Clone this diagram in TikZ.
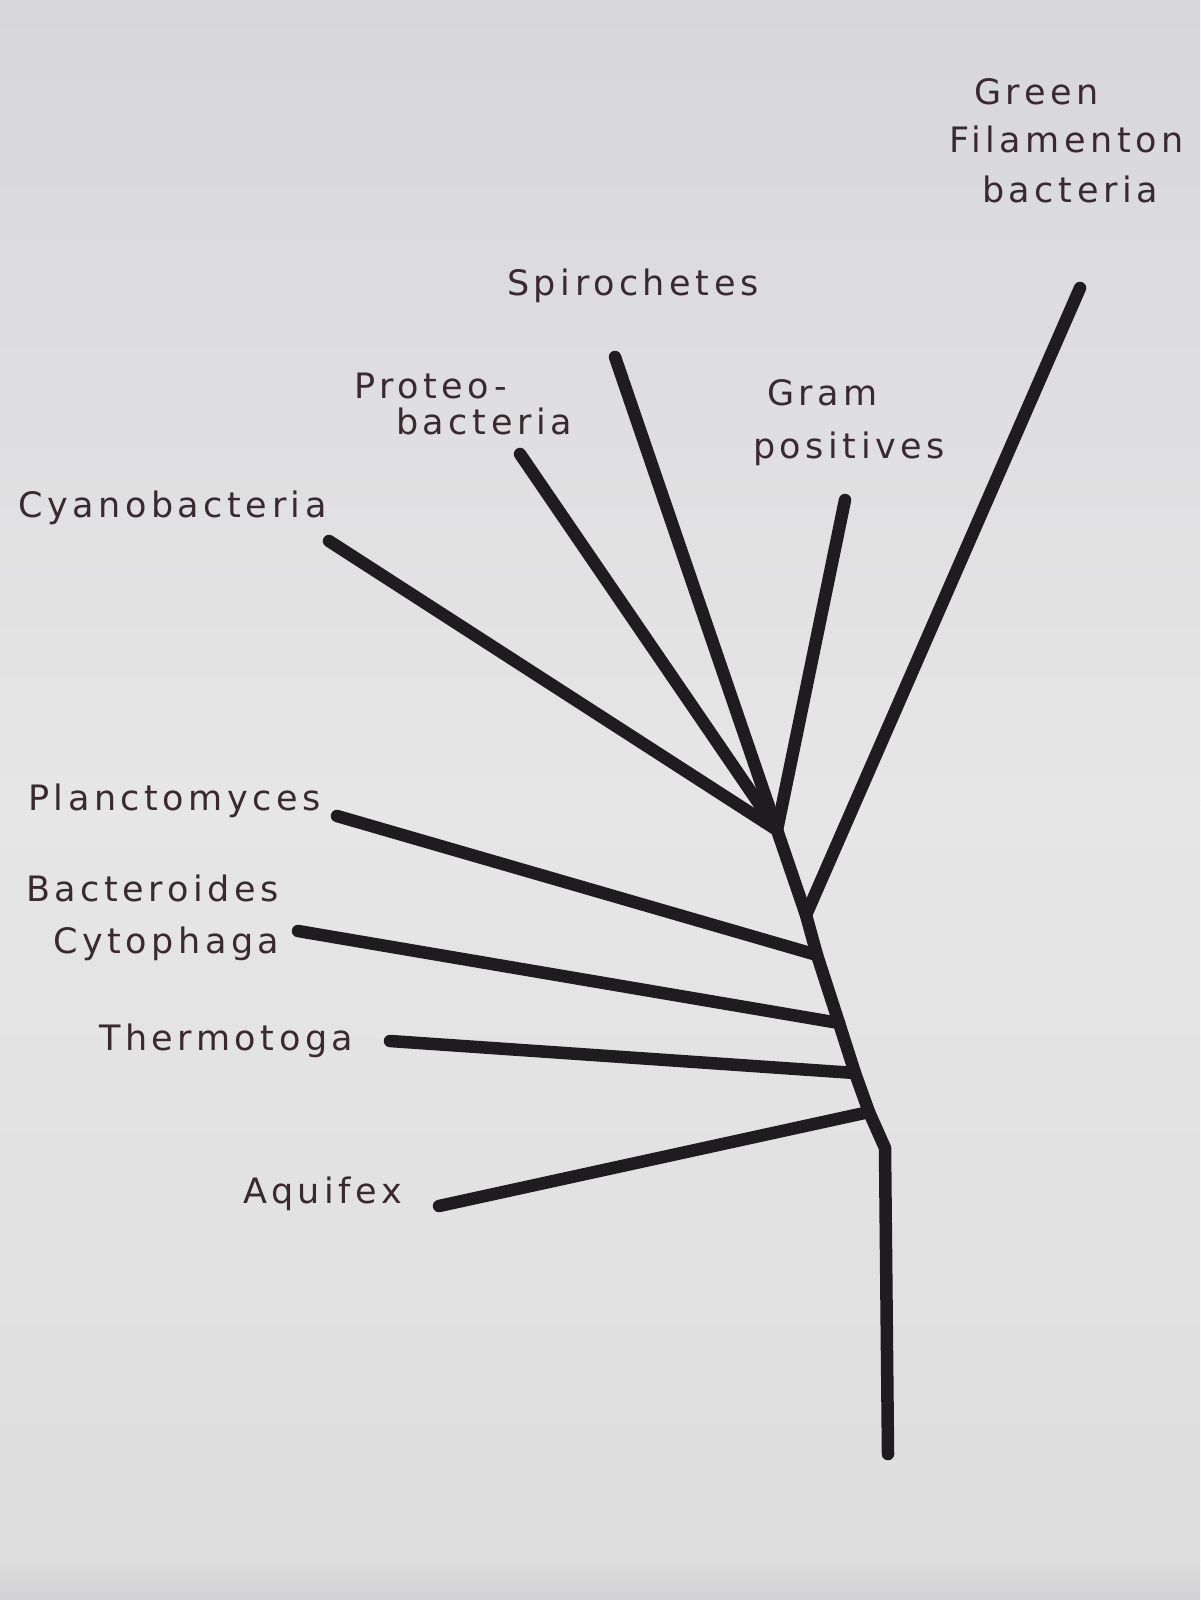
\documentclass[tikz,border=0pt]{standalone}
\usepackage{fontspec}
\setmainfont{DejaVu Sans}[LetterSpace=13]
\begin{document}
\begin{tikzpicture}[x=1pt,y=-1pt,
  branch/.style={line width=12.5pt,line cap=round,line join=round,draw=ink},
  lbl/.style={text=pen,font=\fontsize{35}{44}\selectfont,inner sep=0pt,anchor=west}]
\definecolor{ink}{HTML}{1E1C1E}
\definecolor{pen}{HTML}{3A2A30}
\definecolor{papertop}{HTML}{D7D6DA}
\definecolor{papermid}{HTML}{E6E6E6}
\definecolor{paperbot}{HTML}{DEDEDE}
\definecolor{paperedge}{HTML}{D2D1D3}
\useasboundingbox (0,0) rectangle (1200,1600);
\shade[top color=papertop,bottom color=papermid] (0,0) rectangle (1200,800);
\shade[top color=papermid,bottom color=paperbot] (0,800) rectangle (1200,1560);
\shade[top color=paperbot,bottom color=paperedge] (0,1560) rectangle (1200,1600);
% junctions
\coordinate (root) at (888,1454);
\coordinate (base) at (885,1148);
\coordinate (jaq) at (869,1112);
\coordinate (jth) at (855,1073);
\coordinate (jba) at (839,1023);
\coordinate (jpl) at (817,955);
\coordinate (jgr) at (806,915);
\coordinate (jtop) at (777,830);
% tips
\coordinate (taq) at (439,1206);
\coordinate (tth) at (390,1041);
\coordinate (tba) at (298,931);
\coordinate (tpl) at (337,816);
\coordinate (tgr) at (1080,288);
\coordinate (tcy) at (329,541);
\coordinate (tpr) at (520,454);
\coordinate (tsp) at (615,357);
\coordinate (tgp) at (845,500);
% trunk and spine
\draw[branch] (root) -- (base) -- (jaq) -- (jth) -- (jba) -- (jpl) -- (jgr) -- (jtop);
% branches
\draw[branch] (jaq) -- (taq);
\draw[branch] (jth) -- (tth);
\draw[branch] (jba) -- (tba);
\draw[branch] (jpl) -- (tpl);
\draw[branch] (jgr) -- (tgr);
\draw[branch] (jtop) -- (tcy);
\draw[branch] (jtop) -- (tpr);
\draw[branch] (jtop) -- (tsp);
\draw[branch] (jtop) -- (tgp);
% labels
\node[lbl] (lgreen1) at (974,92) {Green};
\node[lbl] (lgreen2) at (949,139) {Filamenton};
\node[lbl] (lgreen3) at (982,189) {bacteria};
\node[lbl] (lspiro) at (507,286) {Spirochetes};
\node[lbl] (lproteo1) at (354,386) {Proteo-};
\node[lbl] (lproteo2) at (396,421) {bacteria};
\node[lbl] (lgram1) at (767,393) {Gram};
\node[lbl] (lgram2) at (753,449) {positives};
\node[lbl] (lcyano) at (18,508) {Cyanobacteria};
\node[lbl] (lplanc) at (28,801) {Planctomyces};
\node[lbl] (lbact1) at (26,888) {Bacteroides};
\node[lbl] (lbact2) at (53,944) {Cytophaga};
\node[lbl] (lthermo) at (99,1041) {Thermotoga};
\node[lbl] (laqui) at (243,1194) {Aquifex};
\end{tikzpicture}
\end{document}
